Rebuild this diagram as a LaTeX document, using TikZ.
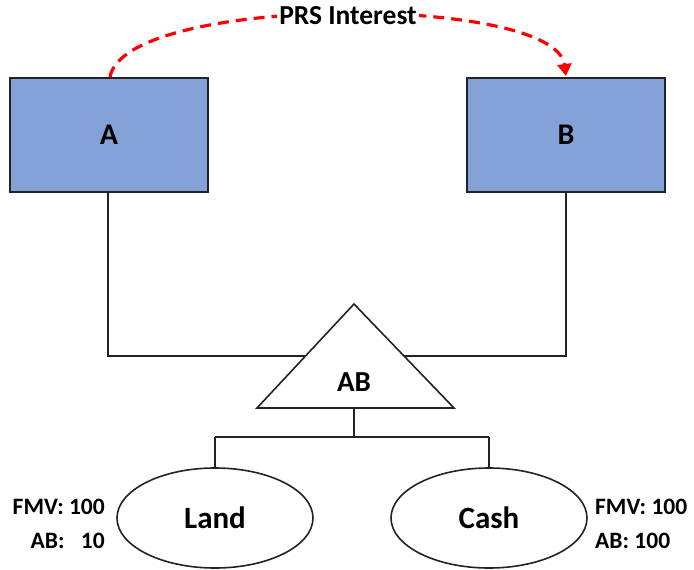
\documentclass[tikz,border=0pt]{standalone}
\usepackage{fontspec}
\setmainfont{Carlito}
\usetikzlibrary{arrows.meta,shapes.geometric}
\definecolor{boxblue}{RGB}{132,162,216}
\definecolor{edge}{RGB}{35,35,35}
\begin{document}
\begin{tikzpicture}[x=1pt,y=-1pt,
  ent/.style={draw=edge,line width=1.6pt,fill=boxblue,minimum width=198pt,minimum height=114pt,inner sep=0pt,font=\bfseries\fontsize{30}{30}\selectfont},
  own/.style={draw=edge,line width=1.6pt,fill=white,ellipse,minimum width=196pt,minimum height=100pt,inner sep=0pt,font=\bfseries\fontsize{31}{31}\selectfont},
  conn/.style={draw=edge,line width=1.6pt},
  lbl/.style={font=\bfseries\fontsize{23.5}{23.5}\selectfont,inner sep=0pt,align=left}]
\useasboundingbox (0,0) rectangle (694,570);
\node[ent] (A) at (109,135) {A};
\node[ent] (B) at (566,135) {B};
\coordinate (apex) at (354,304);
\coordinate (bl) at (257,408);
\coordinate (br) at (454,408);
\coordinate (tbot) at (354,408);
\coordinate (mid) at (354,437);
\coordinate (jl) at (108,356);
\coordinate (jr) at (566,356);
\node[own] (L) at (215,518) {Land};
\node[own] (C) at (489,518) {Cash};
\coordinate (lt) at (215,437);
\coordinate (ct) at (489,437);
% connectors
\draw[conn] (A.south -| jl) -- (jl) -- (354,356);
\draw[conn] (B.south -| jr) -- (jr) -- (354,356);
\filldraw[conn,fill=white,line join=miter] (apex) -- (br) -- (bl) -- cycle;
\node[font=\bfseries\fontsize{29}{29}\selectfont] (AB) at (354,382) {AB};
\draw[conn] (tbot) -- (mid);
\draw[conn] (lt) -- (ct);
\draw[conn] (lt) -- (L.north);
\draw[conn] (ct) -- (C.north);
% PRS interest arrow
\coordinate (s) at (110,77);
\coordinate (e) at (566,76);
\draw[red,line width=3.2pt,dash pattern=on 11pt off 7pt,-{Triangle[length=12pt,width=14pt]}]
  (s) .. controls (125,-6) and (555,-6) .. (e);
\node[fill=white,inner sep=2pt,font=\bfseries\fontsize{27.5}{27.5}\selectfont] (prs) at (348,16) {PRS Interest};
% value labels
\node[lbl,anchor=east] (lf) at (105,507) {FMV: 100};
\node[lbl,anchor=east] (la) at (105,541) {AB:\hspace{0.7em}10};
\node[lbl,anchor=west] (rf) at (595,507) {FMV: 100};
\node[lbl,anchor=west] (ra) at (595,541) {AB: 100};
\end{tikzpicture}
\end{document}
